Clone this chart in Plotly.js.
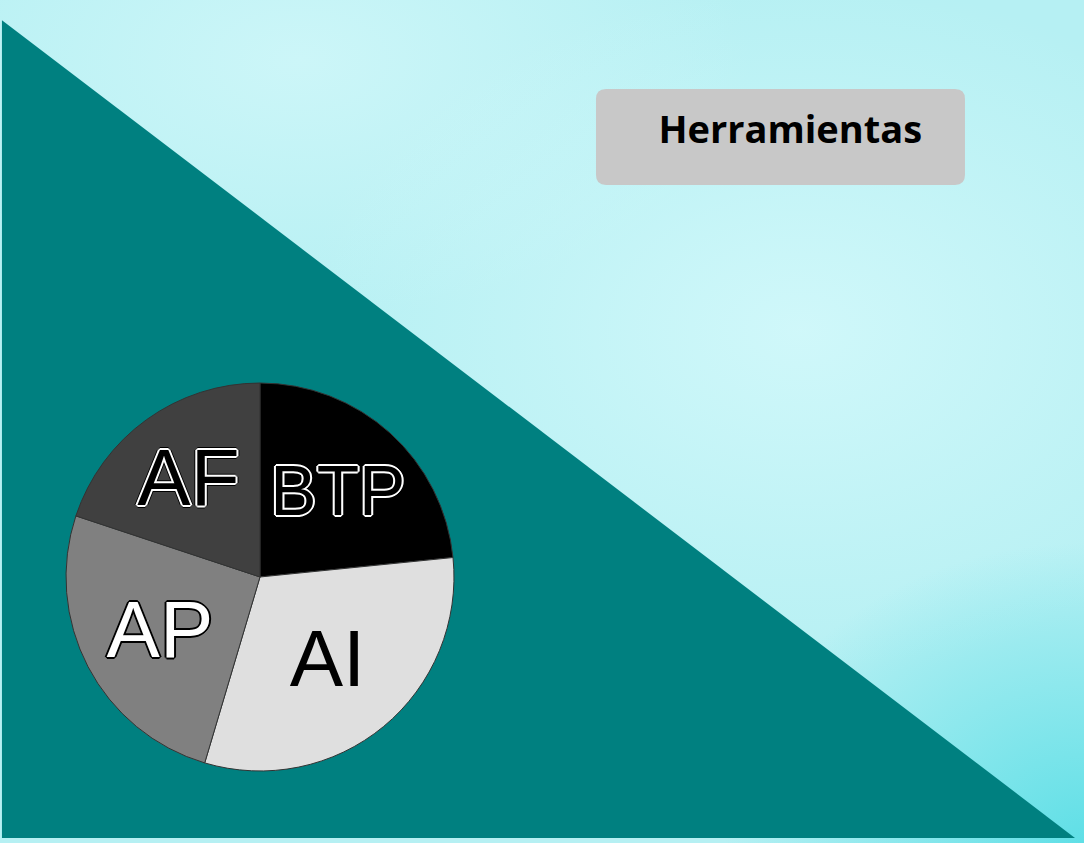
<!DOCTYPE html>
<html>
<head>
<meta charset="utf-8">
<script src="https://cdn.plot.ly/plotly-3.0.1.min.js"></script>
<style>
html, body { margin: 0; padding: 0; width: 1084px; height: 843px; overflow: hidden; }
body {
  background:
    radial-gradient(ellipse 360px 300px at 1084px 843px, rgba(80,220,228,0.85), rgba(80,220,228,0) 100%),
    radial-gradient(ellipse 500px 350px at 800px 330px, rgba(212,249,251,0.85), rgba(212,249,251,0) 100%),
    radial-gradient(ellipse 450px 260px at 300px 60px, rgba(208,247,249,0.85), rgba(208,247,249,0) 100%),
    #b6f0f3;
}
#chart { width: 1084px; height: 843px; }
</style>
</head>
<body>
<div id="chart"></div>
<script>
var labels = ["BTP", "AI", "AP", "AF"];
var values = [23.4, 31.2, 25.5, 19.9];
var sliceColors = ["#000000", "#dfdfdf", "#808080", "#404040"];
var textColors = ["#000000", "#000000", "#ffffff", "#000000"];
var titleText = "Herramientas";

var wOut = "1px 1px 0 #fff, -1px -1px 0 #fff, 1px -1px 0 #fff, -1px 1px 0 #fff, 2px 0 0 #fff, -2px 0 0 #fff, 0 2px 0 #fff, 0 -2px 0 #fff, 3px 0 0 #000, -3px 0 0 #000, 0 3px 0 #000, 0 -3px 0 #000";
var bOut = "1px 1px 0 #000, -1px -1px 0 #000, 1px -1px 0 #000, -1px 1px 0 #000, 2px 0 0 #000, -2px 0 0 #000, 0 2px 0 #000, 0 -2px 0 #000";
var textShadows = [wOut, "none", bOut, wOut];

var trace = {
  type: "pie",
  labels: labels,
  values: values,
  sort: false,
  direction: "clockwise",
  rotation: 0,
  textinfo: "label",
  textposition: "inside",
  insidetextorientation: "horizontal",
  hoverinfo: "label+percent",
  marker: { colors: sliceColors, line: { color: "#333333", width: 1 } },
  textfont: { family: "Liberation Sans, Arial, sans-serif", size: 80, color: textColors, shadow: textShadows },
  domain: { x: [0.0609, 0.4188], y: [0.0854, 0.5457] },
  showlegend: false
};

var layout = {
  width: 1084,
  height: 843,
  margin: { l: 0, r: 0, t: 0, b: 0 },
  paper_bgcolor: "rgba(0,0,0,0)",
  plot_bgcolor: "rgba(0,0,0,0)",
  showlegend: false,
  title: {
    text: "<b>" + titleText + "</b>",
    font: { family: "Open Sans, sans-serif", size: 38, color: "#000000" },
    x: 0.729, xref: "paper", xanchor: "center",
    y: 0.846, yref: "paper", yanchor: "middle"
  },
  shapes: [
    {
      type: "path", xref: "paper", yref: "paper", layer: "below",
      path: "M 0.0018 0.976 L 0.9917 0.006 L 0.0018 0.006 Z",
      fillcolor: "#008080", line: { width: 0 }
    },
    {
      type: "path", xref: "paper", yref: "paper", layer: "below",
      path: "M 0.5590 0.8945 L 0.8811 0.8945 Q 0.8902 0.8945 0.8902 0.8826 L 0.8902 0.7924 Q 0.8902 0.7806 0.8811 0.7806 L 0.5590 0.7806 Q 0.5498 0.7806 0.5498 0.7924 L 0.5498 0.8826 Q 0.5498 0.8945 0.5590 0.8945 Z",
      fillcolor: "#c8c8c8", line: { width: 0 }
    }
  ]
};

Plotly.newPlot("chart", [trace], layout, { displayModeBar: false, staticPlot: true });
</script>
</body>
</html>
